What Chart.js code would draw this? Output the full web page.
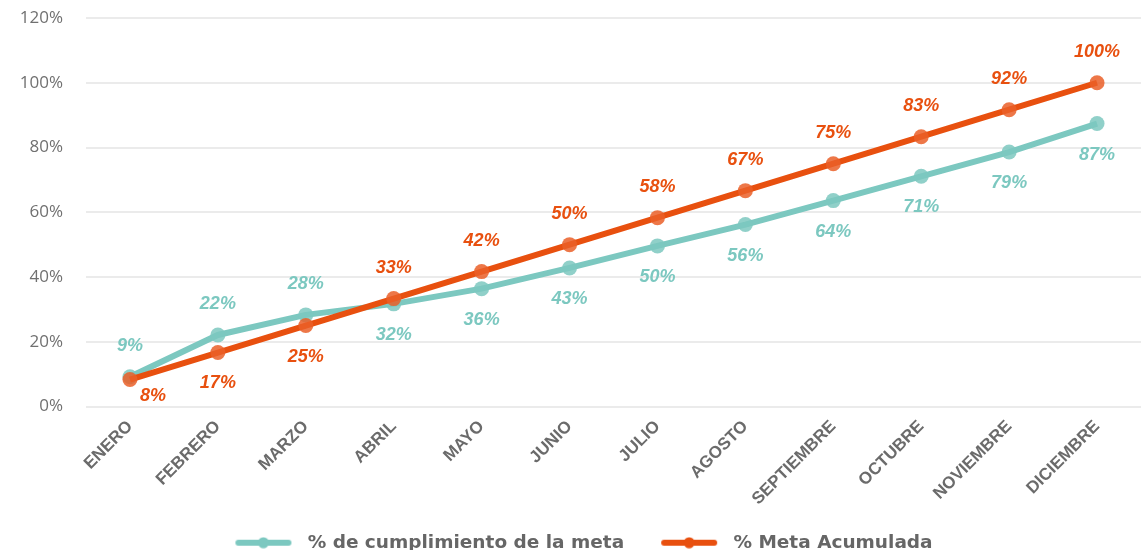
<!DOCTYPE html>
<html>
<head>
<meta charset="utf-8">
<script src="https://cdn.jsdelivr.net/npm/chart.js"></script>
<style>
  html, body { margin: 0; padding: 0; background: #fff; overflow: hidden; }
  #wrap { width: 1141px; height: 562px; }
</style>
</head>
<body>
<div id="wrap"><canvas id="line-chart"></canvas></div>
<script>
const months = ["ENERO", "FEBRERO", "MARZO", "ABRIL", "MAYO", "JUNIO", "JULIO", "AGOSTO", "SEPTIEMBRE", "OCTUBRE", "NOVIEMBRE", "DICIEMBRE"];
const cumplimiento = [9.2, 22.1, 28.3, 31.7, 36.4, 42.8, 49.6, 56.2, 63.6, 71.1, 78.6, 87.4];
const metaAcumulada = [8.33, 16.67, 25, 33.33, 41.67, 50, 58.33, 66.67, 75, 83.33, 91.67, 100];
const yTicks = [0, 20, 40, 60, 80, 100, 120];

const teal = "#7cc8c0";
const orange = "#e8500f";

// legend marker: line with a dot in the middle (blank room on the left = gap between items)
function legendMarker(color) {
  const c = document.createElement("canvas");
  c.width = 90;
  c.height = 12;
  const g = c.getContext("2d");
  g.strokeStyle = color;
  g.lineWidth = 6;
  g.lineCap = "round";
  g.beginPath();
  g.moveTo(30, 6);
  g.lineTo(80, 6);
  g.stroke();
  g.fillStyle = color;
  g.beginPath();
  g.arc(55, 6, 5.5, 0, Math.PI * 2);
  g.fill();
  return c;
}

// percent labels over / under each point
const pointLabels = {
  id: "pointLabels",
  afterDatasetsDraw(chart) {
    const ctx = chart.ctx;
    const sets = chart.data.datasets;
    ctx.save();
    ctx.font = "italic bold 18px 'Liberation Sans', Arial, sans-serif";
    ctx.textAlign = "center";
    ctx.textBaseline = "middle";
    sets.forEach((ds, di) => {
      const meta = chart.getDatasetMeta(di);
      const other = sets[1 - di].data;
      meta.data.forEach((pt, i) => {
        const v = ds.data[i];
        const above = v >= other[i];
        let dx = 0;
        let dy = above ? -31 : 31;
        if (i === 0 && !above) { dx = 23; dy = 16; }
        ctx.fillStyle = ds.borderColor;
        ctx.fillText(Math.round(v) + "%", pt.x + dx, pt.y + dy);
      });
    });
    ctx.restore();
  }
};

const ctx = document.querySelector("#line-chart");

new Chart(ctx, {
  type: "line",
  data: {
    labels: months,
    datasets: [
      {
        label: "% de cumplimiento de la meta",
        data: cumplimiento,
        borderColor: teal,
        backgroundColor: "rgba(124,200,192,0.85)",
        borderWidth: 6,
        pointRadius: 7.5,
        pointBorderWidth: 0,
        pointStyle: "circle",
        tension: 0,
        order: 1
      },
      {
        label: "% Meta Acumulada",
        data: metaAcumulada,
        borderColor: orange,
        backgroundColor: "rgba(234,95,40,0.85)",
        borderWidth: 6,
        pointRadius: 7.5,
        pointBorderWidth: 0,
        pointStyle: "circle",
        tension: 0,
        order: 0
      }
    ]
  },
  options: {
    responsive: true,
    maintainAspectRatio: false,
    animation: false,
    events: [],
    layout: { autoPadding: false, padding: { top: 18, right: 0, left: 0, bottom: 0 } },
    scales: {
      x: {
        offset: true,
        grid: { display: false },
        border: { display: false },
        ticks: {
          color: "#6b6b6b",
          font: { family: "'Liberation Sans', Arial, sans-serif", size: 17, weight: "bold" },
          minRotation: 45,
          maxRotation: 45,
          padding: 2
        },
        afterFit(scale) {
          scale.height = 117;
          scale.paddingLeft = 0;
          scale.paddingRight = 0;
        }
      },
      y: {
        min: 0,
        max: 120,
        afterBuildTicks(scale) { scale.ticks = yTicks.map(v => ({ value: v })); },
        grid: { color: "#ebebeb", lineWidth: 2, drawTicks: false },
        border: { display: false },
        ticks: {
          color: "#707070",
          font: { family: "'Open Sans', sans-serif", size: 17 },
          padding: 23,
          callback: v => v + "%"
        },
        afterFit(scale) {
          scale.width = 86;
          scale.paddingTop = 0;
          scale.paddingBottom = 0;
        }
      }
    },
    plugins: {
      tooltip: { enabled: false },
      legend: {
        position: "bottom",
        labels: {
          color: "#666",
          font: { family: "'DejaVu Sans', sans-serif", size: 18.5, weight: "bold" },
          usePointStyle: true,
          pointStyleWidth: 90,
          padding: 10,
          generateLabels(chart) {
            return chart.data.datasets.map((ds, i) => ({
              text: ds.label,
              pointStyle: legendMarker(ds.borderColor),
              fillStyle: ds.borderColor,
              strokeStyle: ds.borderColor,
              lineWidth: 0,
              fontColor: "#666",
              datasetIndex: i
            }));
          }
        }
      }
    }
  },
  plugins: [pointLabels]
});
</script>
</body>
</html>
